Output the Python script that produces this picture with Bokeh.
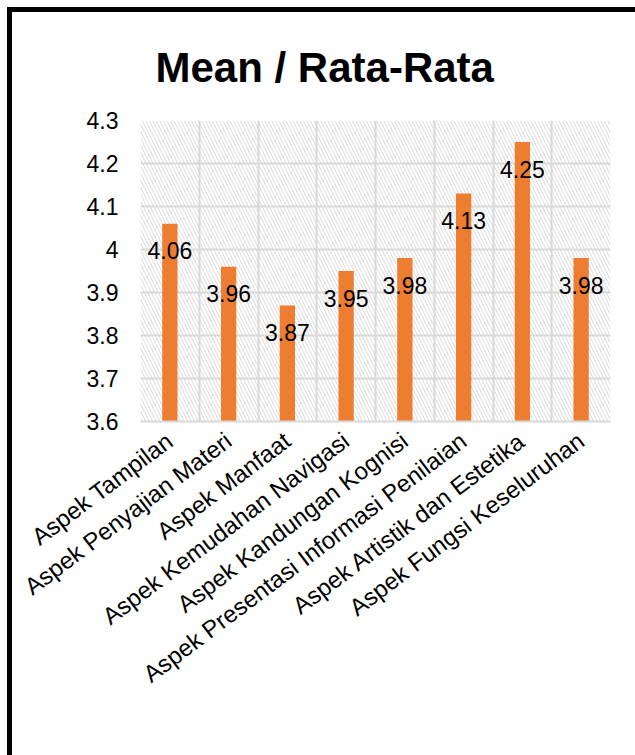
from bokeh.plotting import figure
from bokeh.models import (BoxAnnotation, FixedTicker, NumeralTickFormatter, Legend,
                          LegendItem, ColumnDataSource, Range1d)
from bokeh.core.properties import value
from bokeh.embed import file_html
from bokeh.resources import INLINE

title_text = "Mean / Rata-Rata"
series_name = "Mean / Rata-Rata"
categories = ["Aspek Tampilan", "Aspek Penyajian Materi", "Aspek Manfaat",
              "Aspek Kemudahan Navigasi", "Aspek Kandungan Kognisi",
              "Aspek Presentasi Informasi Penilaian", "Aspek Artistik dan Estetika",
              "Aspek Fungsi Keseluruhan"]
values = [4.06, 3.96, 3.87, 3.95, 3.98, 4.13, 4.25, 3.98]
y_ticks = [3.6, 3.7, 3.8, 3.9, 4.0, 4.1, 4.2, 4.3]

FONT = "Liberation Sans"
ORANGE = "#ED7D31"
GRID = "#d9d9d9"

xs = list(range(1, len(categories) + 1))
src = ColumnDataSource(dict(x=xs, top=values, label=[f"{v:g}" for v in values]))

p = figure(frame_width=470, frame_height=301, output_backend="svg", toolbar_location=None,
           x_range=Range1d(0.5, len(categories) + 0.5),
           y_range=Range1d(y_ticks[0], y_ticks[-1]),
           min_border_left=128, min_border_right=25, min_border_top=100,
           min_border_bottom=342)
p.styles = {"margin-left": "7px", "margin-top": "7px",
            "border-left": "5px solid black", "border-top": "5px solid black"}
p.outline_line_color = None
p.background_fill_color = "white"
p.border_fill_color = "white"

# hatched plot area
p.add_layout(BoxAnnotation(fill_alpha=0, line_color=None, hatch_pattern="\\",
                           hatch_color="#dadada", hatch_scale=7, hatch_weight=1,
                           level="image"))

p.title.text = title_text
p.title.text_font = FONT
p.title.text_font_size = "42px"
p.title.text_font_style = "bold"
p.title.text_color = "black"
p.title.align = "left"
p.title.offset = 15
p.title.standoff = 59

bars = p.vbar(x="x", top="top", bottom=y_ticks[0], width=0.26, source=src,
              fill_color=ORANGE, line_color=None)
p.text(x="x", y="top", text="label", source=src, y_offset=27,
       text_align="center", text_baseline="middle", text_font=value(FONT),
       text_font_size="23px", text_color="black")

# axes
p.yaxis.ticker = FixedTicker(ticks=y_ticks)
p.yaxis.formatter = NumeralTickFormatter(format="0.[0]")
p.yaxis.axis_line_color = None
p.yaxis.major_tick_line_color = None
p.yaxis.minor_tick_line_color = None
p.yaxis.major_label_text_font = FONT
p.yaxis.major_label_text_font_size = "23px"
p.yaxis.major_label_text_color = "black"
p.yaxis.major_label_standoff = 16

p.xaxis.ticker = FixedTicker(ticks=xs)
p.xaxis.major_label_overrides = {x: c for x, c in zip(xs, categories)}
p.xaxis.major_label_orientation = 0.646
p.xaxis.axis_line_color = GRID
p.xaxis.axis_line_width = 2
p.xaxis.major_tick_line_color = None
p.xaxis.minor_tick_line_color = None
p.xaxis.major_label_text_font = FONT
p.xaxis.major_label_text_font_size = "24px"
p.xaxis.major_label_text_color = "black"
p.xaxis.major_label_standoff = 10

p.xgrid.ticker = FixedTicker(ticks=[x - 0.5 for x in xs] + [xs[-1] + 0.5])
p.xgrid.grid_line_color = GRID
p.xgrid.grid_line_width = 2
p.ygrid.ticker = FixedTicker(ticks=y_ticks)
p.ygrid.grid_line_color = GRID
p.ygrid.grid_line_width = 2

legend = Legend(items=[LegendItem(label=series_name, renderers=[bars])],
                orientation="horizontal", location=(77, -332),
                label_text_font=FONT, label_text_font_size="21px",
                label_text_color="black",
                glyph_width=12, glyph_height=12, label_standoff=4,
                border_line_color=None, background_fill_alpha=0, margin=0)
p.add_layout(legend, "center")

open("out.html", "w").write(file_html(p, INLINE))
